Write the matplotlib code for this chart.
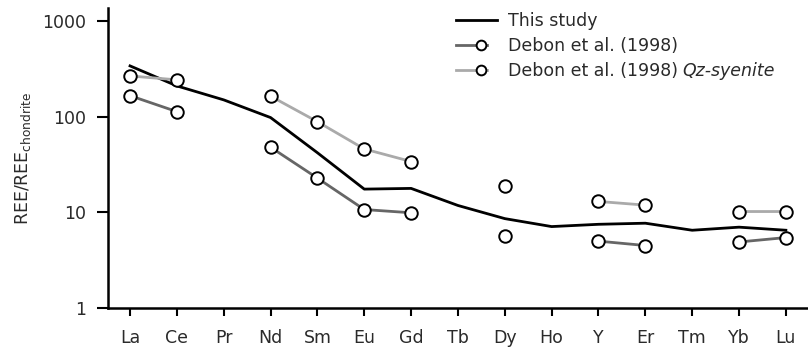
import numpy as np
import matplotlib
matplotlib.use("Agg")
import matplotlib.pyplot as plt
from matplotlib.legend_handler import HandlerLine2D
from matplotlib.lines import Line2D
from matplotlib.transforms import IdentityTransform

plt.rcParams['font.family'] = ['DejaVu Sans']
plt.rcParams['mathtext.fontset'] = 'dejavusans'

# REE order on the x axis (Y placed between Ho and Er)
elements = ["La", "Ce", "Pr", "Nd", "Sm", "Eu", "Gd", "Tb", "Dy", "Ho", "Y", "Er", "Tm", "Yb", "Lu"]
nan = np.nan

# Chondrite-normalised values
this_study = [340, 210, 150, 98, 42, 17.5, 17.8, 11.8, 8.6, 7.1, 7.5, 7.7, 6.5, 7.0, 6.5]
debon = [166, 113, nan, 48, 22.8, 10.7, 9.9, nan, 5.6, nan, 5.0, 4.5, nan, 4.9, 5.45]
debon_qz = [267, 243, nan, 164, 88.7, 46, 34, nan, 18.7, nan, 13.0, 11.9, nan, 10.2, 10.2]

x = np.arange(len(elements))
txt = "#2a2a2a"
fs = 12.5


class ShortMarkerHandler(HandlerLine2D):
    # legend handle: shorter line with the circle sitting right of centre
    def create_artists(self, legend, orig_handle, xdescent, ydescent,
                       width, height, fontsize, trans):
        y = (height - ydescent) / 2
        x0 = -xdescent
        line = Line2D([x0, x0 + 0.76 * width], [y, y])
        self.update_prop(line, orig_handle, legend)
        line.set_marker("None")
        mark = Line2D([x0 + 0.6 * width], [y])
        self.update_prop(mark, orig_handle, legend)
        mark.set_linestyle("None")
        mark.set_markersize(7)
        line.set_transform(trans)
        mark.set_transform(trans)
        return [line, mark]


fig = plt.figure(figsize=(8.08, 3.54), dpi=100)
ax = fig.add_axes([0.1337, 0.13, 0.865, 0.847])

ax.plot(x, this_study, color="black", lw=2.0, label="This study", zorder=3)
l1, = ax.plot(x, debon, color="#666666", lw=2.0, marker="o", ms=9, mfc="white",
              mec="black", mew=1.4, label="Debon et al. (1998)", zorder=4)
l2, = ax.plot(x, debon_qz, color="#aaaaaa", lw=2.0, marker="o", ms=9, mfc="white",
              mec="black", mew=1.4, label="Debon et al. (1998)", zorder=4)

ax.set_yscale("log")
ax.set_ylim(1, 1366)
ax.set_xlim(-0.47, 14.45)
ax.set_yticks([1, 10, 100, 1000])
ax.set_yticklabels(["1", "10", "100", "1000"])
ax.yaxis.set_minor_locator(matplotlib.ticker.NullLocator())
ax.set_xticks(x)
ax.set_xticklabels(elements)
ax.tick_params(axis="both", labelsize=fs, width=1.5, length=6, color="black",
               labelcolor=txt)
ax.tick_params(axis="x", pad=9)
ax.tick_params(axis="y", length=8, pad=8)

ax.spines["top"].set_visible(False)
ax.spines["right"].set_visible(False)
ax.spines["left"].set_linewidth(1.8)
ax.spines["bottom"].set_linewidth(1.8)

ax.set_ylabel("REE/REE$_{\\mathrm{chondrite}}$", fontsize=fs, color=txt, labelpad=6)

leg = ax.legend(loc="upper left", bbox_to_anchor=(0.475, 1.04), frameon=False,
                fontsize=fs, handlelength=2.4, handletextpad=0.6,
                labelspacing=0.42,
                handler_map={l1: ShortMarkerHandler(), l2: ShortMarkerHandler()})
for t in leg.get_texts():
    t.set_color(txt)

# italic rock name after the third legend entry
fig.canvas.draw()
bb = leg.get_texts()[2].get_window_extent()
fig.text(bb.x1 + 5, bb.y0, "Qz-syenite", transform=IdentityTransform(),
         ha="left", va="bottom", fontsize=fs, style="italic", color=txt)

fig.savefig("out.png", dpi=100)
